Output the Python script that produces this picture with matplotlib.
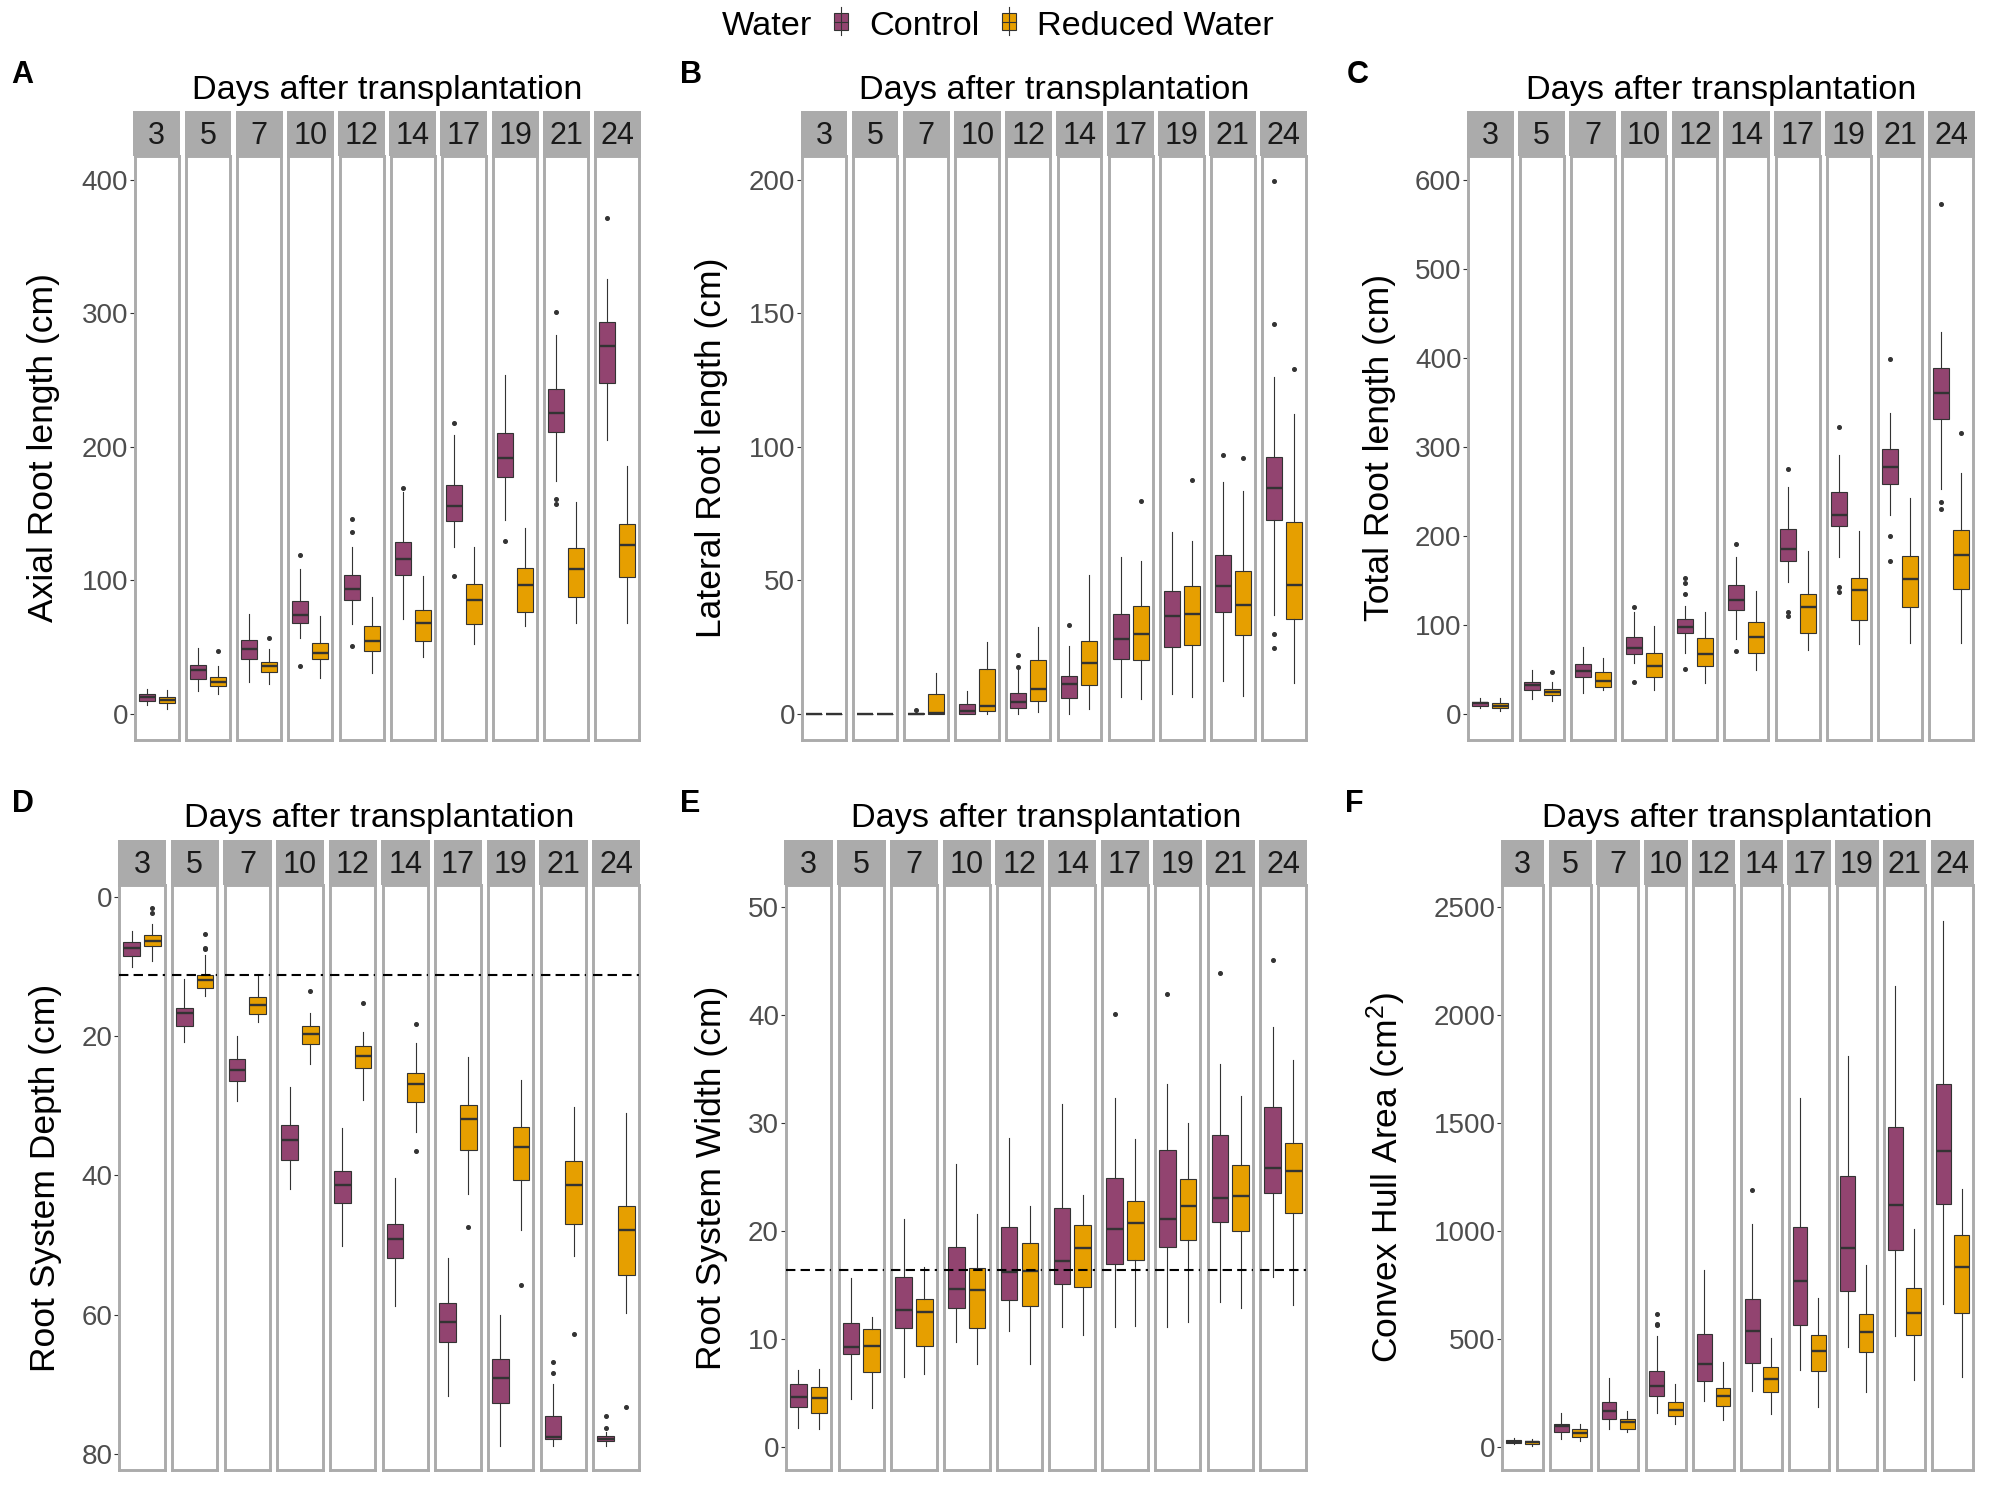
import matplotlib
matplotlib.use("Agg")
import matplotlib.pyplot as plt
from matplotlib.patches import Rectangle
from matplotlib.lines import Line2D

plt.rcParams['font.family'] = ['Liberation Sans', 'DejaVu Sans']

days = [3, 5, 7, 10, 12, 14, 17, 19, 21, 24]
groups = ["Control", "Reduced Water"]
fill = {"Control": "#924470", "Reduced Water": "#E69F00"}

# box summaries per day: [whisker low, q1, median, q3, whisker high]
axial_ctrl = [[6.6, 9.7, 12.9, 14.6, 18.9], [17.5, 26.0, 32.6, 36.3, 49.5],
              [23.7, 40.9, 48.4, 55.2, 75.0], [57.2, 67.8, 73.8, 84.4, 108.4],
              [67.5, 85.0, 93.6, 104.4, 125.0], [71.2, 104.4, 116.2, 129.0, 166.0],
              [125.0, 144.8, 155.7, 171.1, 208.6], [145.4, 177.7, 191.7, 210.0, 253.5],
              [174.5, 211.2, 225.2, 243.5, 284.0], [205.2, 248.0, 275.2, 293.6, 325.9]]
axial_ctrl_out = [[], [], [], [119.3, 36.0], [145.9, 136.5, 50.9], [169.0],
                  [217.5, 103.3], [129.3], [301.0, 160.8, 157.4], [371.7]]
axial_red = [[3.4, 8.0, 10.3, 12.6, 18.0], [14.6, 20.9, 23.7, 27.5, 36.0],
             [22.3, 31.2, 36.0, 38.6, 48.6], [26.6, 40.9, 45.8, 53.5, 73.2],
             [30.9, 47.5, 54.9, 65.5, 87.6], [42.6, 54.4, 68.4, 77.5, 103.3],
             [52.4, 67.0, 85.6, 97.0, 125.0], [65.5, 76.7, 96.7, 109.6, 139.0],
             [68.4, 87.3, 108.7, 123.9, 158.5], [68.4, 102.4, 126.5, 141.9, 185.4]]
axial_red_out = [[], [47.5], [57.2], [], [], [], [], [], [], []]

lateral_ctrl = [[0, 0, 0, 0, 0], [0, 0, 0, 0, 0], [0, 0, 0, 0.3, 0.6],
                [0, 0, 1.0, 3.7, 8.6], [0, 2.1, 4.3, 7.9, 16.3], [0, 5.9, 11.4, 14.2, 25.5],
                [6.4, 20.7, 28.2, 37.3, 58.8], [7.6, 24.9, 36.8, 45.9, 68.1],
                [12.3, 38.3, 47.9, 59.4, 87.0], [37.2, 72.5, 84.5, 96.3, 126.3]]
lateral_ctrl_out = [[], [], [1.4], [], [22.2, 17.6], [33.3], [], [], [96.9],
                    [199.7, 145.9, 30.0, 24.7]]
lateral_red = [[0, 0, 0, 0, 0], [0, 0, 0, 0, 0], [0, 0, 0.3, 7.3, 15.3],
               [0, 1.0, 2.9, 16.7, 26.9], [0.9, 4.7, 9.4, 20.2, 32.6],
               [2.0, 10.7, 19.2, 27.2, 51.9], [5.7, 20.2, 30.0, 40.6, 57.2],
               [6.2, 26.0, 37.5, 47.8, 64.7], [6.6, 29.5, 40.9, 53.4, 83.4],
               [11.7, 35.5, 48.4, 71.7, 112.2]]
lateral_red_out = [[], [], [], [], [], [], [79.8], [87.6], [95.7], [129.0]]

total_ctrl = [[7.3, 9.4, 12.0, 14.2, 17.6], [17.2, 26.6, 32.6, 36.0, 49.4],
              [24.0, 41.2, 48.9, 55.8, 75.1], [57.5, 67.8, 74.2, 87.1, 115.0],
              [69.1, 90.6, 97.9, 107.3, 121.0], [84.5, 117.2, 128.3, 145.5, 176.0],
              [148.5, 172.1, 185.4, 208.2, 254.5], [176.8, 211.6, 223.6, 249.8, 290.6],
              [223.6, 258.8, 277.7, 297.9, 337.8], [252.8, 330.9, 360.5, 388.8, 429.6]]
total_ctrl_out = [[], [], [], [120.6, 36.0], [152.8, 147.2, 134.8, 50.6], [191.4, 71.2],
                  [275.0, 114.6, 110.3], [322.3, 142.9, 137.3], [398.7, 200.0, 172.5],
                  [572.5, 238.2, 230.5]]
total_red = [[3.0, 7.3, 9.0, 12.0, 17.6], [15.0, 21.0, 24.9, 27.9, 35.6],
             [27.5, 30.9, 37.8, 46.8, 63.1], [27.0, 42.1, 54.1, 69.1, 98.7],
             [35.2, 53.6, 67.4, 85.0, 115.0], [49.8, 69.1, 86.7, 103.0, 138.6],
             [72.1, 90.6, 120.2, 135.2, 183.7], [78.5, 106.0, 139.5, 152.4, 205.2],
             [79.8, 120.6, 151.5, 178.1, 242.5], [80.3, 140.8, 179.0, 207.3, 270.4]]
total_red_out = [[], [47.6], [], [], [], [], [], [], [], [315.5]]

depth_ctrl = [[4.9, 6.5, 7.3, 8.45, 10.1], [11.8, 15.9, 16.7, 18.5, 20.8],
              [20.0, 23.3, 24.8, 26.4, 29.3], [27.3, 32.7, 34.9, 37.8, 41.9],
              [33.2, 39.3, 41.3, 44.0, 50.1], [40.3, 47.0, 49.1, 51.9, 58.8],
              [51.9, 58.3, 61.1, 63.9, 71.7], [60.0, 66.4, 69.1, 72.7, 78.8],
              [70.0, 74.5, 77.5, 77.9, 78.9], [76.8, 77.4, 77.9, 78.2, 78.9]]
depth_ctrl_out = [[], [], [], [], [], [], [], [], [66.8, 68.3], [74.6, 76.2]]
depth_red = [[3.9, 5.46, 6.31, 7.04, 9.24], [8.3, 11.15, 12.0, 13.1, 14.3],
             [11.15, 14.4, 15.5, 16.8, 17.9], [16.7, 18.5, 19.7, 21.1, 24.0],
             [19.4, 21.4, 22.8, 24.6, 29.1], [21.0, 25.3, 26.9, 29.4, 33.7],
             [23.0, 29.9, 31.9, 36.4, 42.7], [26.3, 33.1, 35.9, 40.7, 47.8],
             [30.1, 37.9, 41.3, 47.0, 51.5], [31.0, 44.4, 47.8, 54.3, 59.8]]
depth_red_out = [[1.52, 2.37], [5.35, 7.27, 7.55], [], [13.5], [15.2], [18.3, 36.5],
                 [47.4], [55.8], [62.7], [73.3]]

width_ctrl = [[1.75, 3.64, 4.62, 5.78, 7.13], [4.44, 8.58, 9.27, 11.5, 15.6],
              [6.5, 11.0, 12.7, 15.7, 21.1], [9.67, 12.9, 14.6, 18.5, 26.2],
              [10.7, 13.6, 16.2, 20.4, 28.6], [11.1, 15.1, 17.2, 22.1, 31.8],
              [11.1, 16.9, 20.2, 24.9, 32.3], [11.1, 18.5, 21.1, 27.5, 33.6],
              [13.4, 20.8, 23.1, 28.9, 35.5], [15.7, 23.5, 25.8, 31.5, 38.9]]
width_ctrl_out = [[], [], [], [], [], [], [40.1], [42.0], [43.9], [45.1]]
width_red = [[1.64, 3.09, 4.51, 5.49, 7.2], [3.6, 6.91, 9.38, 10.9, 12.0],
             [6.76, 9.38, 12.5, 13.7, 16.7], [7.64, 11.0, 14.5, 16.6, 21.6],
             [7.64, 13.0, 16.3, 18.9, 22.3], [10.4, 14.8, 18.4, 20.6, 23.3],
             [11.2, 17.3, 20.7, 22.8, 28.5], [11.6, 19.2, 22.3, 24.8, 30.0],
             [12.9, 20.0, 23.2, 26.1, 32.5], [13.1, 21.7, 25.6, 28.2, 35.9]]
width_red_out = [[], [], [], [], [], [], [], [], [], []]

hull_ctrl = [[12.7, 18, 23.6, 29, 41.7], [36, 69, 98, 107, 156], [83, 130, 165, 208, 319],
             [158, 236, 283, 350, 514], [212, 303, 384, 522, 817],
             [259, 390, 538, 685, 1031], [355, 563, 766, 1020, 1618],
             [464, 721, 920, 1257, 1812], [511, 913, 1120, 1480, 2134],
             [661, 1127, 1371, 1681, 2437]]
hull_ctrl_out = [[], [], [], [614, 571, 562], [], [1188], [], [], [], []]
hull_red = [[5, 12.7, 20, 27, 36], [25, 47, 65, 80, 103], [69, 83, 114, 130, 165],
            [105, 143, 172, 208, 293], [125, 187, 236, 274, 395],
            [152, 252, 315, 368, 504], [185, 350, 446, 516, 688],
            [255, 437, 533, 614, 842], [310, 516, 621, 736, 1007],
            [324, 620, 832, 982, 1194]]
hull_red_out = [[], [], [], [], [], [], [], [], [], []]

depth_ref = 11.15
width_ref = 16.4

W, H = 2000, 1500
fig = plt.figure(figsize=(20, 15), dpi=100)

BORDER = "#ABABAB"
EDGE = "#333333"
BW = 2.9  # border width in px

panels = [
    dict(letter="A", ylabel="Axial Root length (cm)", data=(axial_ctrl, axial_ctrl_out, axial_red, axial_red_out),
         ylim=(-19.5, 418), yticks=[0, 100, 200, 300, 400], x0=133.4, x1=640.9, row=0,
         letter_x=11.7, label_x=44, ref=None),
    dict(letter="B", ylabel="Lateral Root length (cm)", data=(lateral_ctrl, lateral_ctrl_out, lateral_red, lateral_red_out),
         ylim=(-9.75, 209), yticks=[0, 50, 100, 150, 200], x0=800.5, x1=1307.3, row=0,
         letter_x=680, label_x=711, ref=None),
    dict(letter="C", ylabel="Total Root length (cm)", data=(total_ctrl, total_ctrl_out, total_red, total_red_out),
         ylim=(-29, 627), yticks=[0, 100, 200, 300, 400, 500, 600], x0=1466.9, x1=1974.8, row=0,
         letter_x=1347, label_x=1379, ref=None),
    dict(letter="D", ylabel="Root System Depth (cm)", data=(depth_ctrl, depth_ctrl_out, depth_red, depth_red_out),
         ylim=(82.3, -1.74), yticks=[0, 20, 40, 60, 80], x0=117.9, x1=640.2, row=1,
         letter_x=11.7, label_x=46, ref=depth_ref),
    dict(letter="E", ylabel="Root System Width (cm)", data=(width_ctrl, width_ctrl_out, width_red, width_red_out),
         ylim=(-2.16, 52.1), yticks=[0, 10, 20, 30, 40, 50], x0=784.4, x1=1307.3, row=1,
         letter_x=680, label_x=711, ref=width_ref),
    dict(letter="F", ylabel="Convex Hull Area (cm$\\mathregular{^2}$)", data=(hull_ctrl, hull_ctrl_out, hull_red, hull_red_out),
         ylim=(-108, 2605), yticks=[0, 500, 1000, 1500, 2000, 2500], x0=1501, x1=1974.1, row=1,
         letter_x=1345, label_x=1386, ref=None),
]

# rows: strip top, panel top, panel bottom, title baseline, letter baseline (px from top)
rows = [dict(strip_top=111, top=155.7, bottom=740, title=99, letter=83.3),
        dict(strip_top=840, top=884.8, bottom=1470, title=827, letter=812)]


def fx(px):
    return px / W


def fy(px):
    return 1 - px / H


def stats_for(summary, out):
    lo, q1, med, q3, hi = summary
    return dict(whislo=lo, q1=q1, med=med, q3=q3, whishi=hi, fliers=out)


for p in panels:
    r = rows[p["row"]]
    ctrl, ctrl_out, red, red_out = p["data"]
    left = p["x0"] + BW / 2
    right = p["x1"] - BW / 2
    gap = 7.2
    w = (right - left - 9 * gap) / 10
    for i, d in enumerate(days):
        axl = left + i * (w + gap)
        ax = fig.add_axes([fx(axl), fy(r["bottom"]), fx(w), (r["bottom"] - r["top"]) / H])
        st = [stats_for(ctrl[i], ctrl_out[i]), stats_for(red[i], red_out[i])]
        bp = ax.bxp(st, positions=[1, 2], widths=0.8, patch_artist=True, showcaps=False,
                    boxprops=dict(edgecolor=EDGE, linewidth=0.8),
                    whiskerprops=dict(color=EDGE, linewidth=0.8),
                    medianprops=dict(color=EDGE, linewidth=1.7),
                    flierprops=dict(marker="o", markersize=2.6, markerfacecolor=EDGE,
                                    markeredgecolor=EDGE, linestyle="none"))
        for patch, g in zip(bp["boxes"], groups):
            patch.set_facecolor(fill[g])
        if p["ref"] is not None:
            ax.axhline(p["ref"], color="black", linewidth=1.5, dashes=(4.5, 2.5), zorder=5)
        ax.set_xlim(0.4, 2.6)
        ax.set_ylim(*p["ylim"])
        ax.set_xticks([])
        for s in ax.spines.values():
            s.set_color(BORDER)
            s.set_linewidth(2.1)
        if i == 0:
            ax.set_yticks(p["yticks"])
            ax.tick_params(axis="y", length=3.5, width=0.8, color=EDGE, labelsize=20,
                           labelcolor="#4D4D4D", pad=1.5)
        else:
            ax.set_yticks([])
        # facet strip
        fig.add_artist(Rectangle((fx(axl - BW / 2), fy(r["top"])), fx(w + BW),
                                 (r["top"] - r["strip_top"]) / H, transform=fig.transFigure,
                                 facecolor=BORDER, edgecolor="none"))
        mid = (r["top"] + r["strip_top"]) / 2
        fig.text(fx(axl + w / 2), fy(mid + 11), str(d), fontsize=22,
                 color="#1A1A1A", ha="center", va="baseline")
    fig.text(fx((p["x0"] + p["x1"]) / 2), fy(r["title"]), "Days after transplantation",
             fontsize=24.7, ha="center", va="baseline")
    fig.text(fx(p["letter_x"]), fy(r["letter"]), p["letter"], fontsize=22, fontweight="bold",
             ha="left", va="baseline")
    fig.text(fx(p["label_x"]), fy((r["top"] + r["bottom"]) / 2), p["ylabel"], fontsize=25.5,
             rotation=90, ha="center", va="center")

# legend
fig.text(fx(722), fy(35), "Water", fontsize=24.7, ha="left", va="baseline")
for cx, g, tx in [(841, "Control", 869), (1009, "Reduced Water", 1037)]:
    fig.add_artist(Line2D([fx(cx), fx(cx)], [fy(35), fy(7.3)], transform=fig.transFigure,
                          color=EDGE, linewidth=0.8))
    fig.add_artist(Rectangle((fx(cx - 7), fy(30)), fx(14), 16.7 / H, transform=fig.transFigure,
                             facecolor=fill[g], edgecolor=EDGE, linewidth=0.8))
    fig.add_artist(Line2D([fx(cx - 7), fx(cx + 7)], [fy(21.7), fy(21.7)], transform=fig.transFigure,
                          color=EDGE, linewidth=0.8))
    fig.text(fx(tx), fy(35), g, fontsize=24.7, ha="left", va="baseline")

fig.savefig("out.png", dpi=100, facecolor="white")
